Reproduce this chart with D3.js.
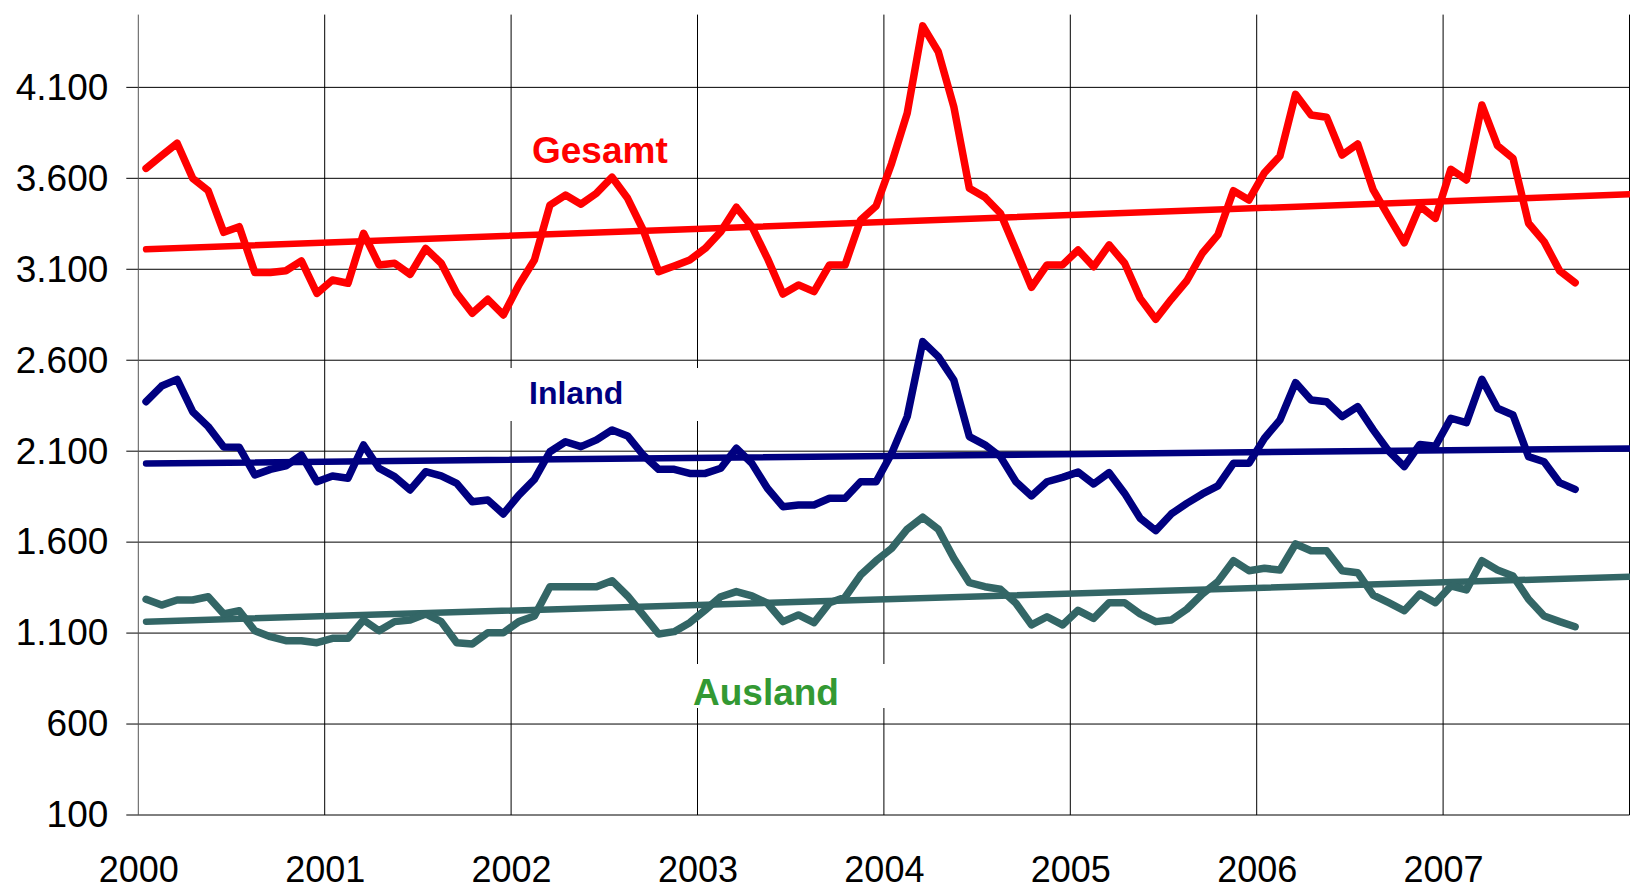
<!DOCTYPE html>
<html>
<head>
<meta charset="utf-8">
<script src="https://cdn.jsdelivr.net/npm/d3@7"></script>
<style>
  body { margin: 0; background: #fff; }
  text { font-family: "Liberation Sans", Arial, sans-serif; }
</style>
</head>
<body>
<div id="chart"></div>
<script>
// Monthly values, Jan 2000 - Sep 2007
const gesamt = [3655, 3725, 3793, 3600, 3532, 3303, 3334, 3082, 3082, 3092, 3146, 2968,
  3041, 3023, 3298, 3124, 3133, 3072, 3215, 3133, 2968, 2858, 2935, 2849,
  3014, 3151, 3453, 3508, 3458, 3518, 3606, 3490, 3316, 3087, 3118, 3151,
  3215, 3307, 3441, 3334, 3160, 2964, 3014, 2977, 3124, 3124, 3371, 3448,
  3683, 3958, 4438, 4296, 3994, 3545, 3496, 3408, 3206, 3001, 3124, 3124,
  3206, 3114, 3234, 3133, 2940, 2825, 2935, 3037, 3188, 3289, 3532, 3481,
  3631, 3723, 4062, 3948, 3936, 3728, 3789, 3536, 3389, 3246, 3448, 3380,
  3650, 3591, 4003, 3780, 3710, 3353, 3252, 3092, 3026];
const inland = [2372, 2458, 2495, 2317, 2235, 2123, 2121, 1969, 2000, 2019, 2079, 1932,
  1964, 1951, 2134, 2006, 1960, 1887, 1987, 1964, 1923, 1822, 1832, 1755,
  1859, 1945, 2097, 2152, 2125, 2162, 2217, 2184, 2079, 2000, 2000, 1978,
  1978, 2006, 2116, 2033, 1896, 1795, 1804, 1804, 1841, 1841, 1932, 1932,
  2088, 2290, 2702, 2620, 2491, 2180, 2135, 2070, 1932, 1854, 1932, 1956,
  1985, 1920, 1982, 1868, 1731, 1663, 1755, 1813, 1865, 1909, 2033, 2033,
  2171, 2272, 2477, 2381, 2372, 2290, 2345, 2217, 2100, 2015, 2137, 2127,
  2281, 2257, 2495, 2336, 2299, 2070, 2042, 1927, 1890];
const ausland = [1286, 1254, 1282, 1282, 1300, 1205, 1223, 1113, 1080, 1058, 1058, 1047,
  1071, 1071, 1172, 1113, 1163, 1172, 1205, 1163, 1047, 1040, 1102, 1102,
  1163, 1194, 1355, 1355, 1355, 1355, 1388, 1304, 1200, 1095, 1108, 1157,
  1227, 1300, 1328, 1304, 1264, 1163, 1200, 1157, 1267, 1297, 1419, 1498,
  1566, 1671, 1737, 1671, 1511, 1377, 1355, 1341, 1264, 1145, 1190, 1145,
  1225, 1181, 1267, 1267, 1205, 1163, 1172, 1231, 1315, 1383, 1498, 1443,
  1456, 1447, 1590, 1553, 1553, 1443, 1432, 1309, 1267, 1223, 1315, 1267,
  1359, 1337, 1498, 1447, 1414, 1286, 1194, 1163, 1135];

// Linear trend lines: value at the first month and at the end of 2007
const trendGesamt = [3210, 3512];
const trendInland = [2032, 2115];
const trendAusland = [1163, 1410];

const years = [2000, 2001, 2002, 2003, 2004, 2005, 2006, 2007];
const valueTicks = [100, 600, 1100, 1600, 2100, 2600, 3100, 3600, 4100];

const width = 1630, height = 890;
const plotLeft = 138.3, plotRight = 1629.5, plotTop = 14.6, plotBottom = 815;

const de = d3.formatLocale({ decimal: ",", thousands: ".", grouping: [3], currency: ["", " €"] });
const fmt = de.format(",d");

const svg = d3.select("#chart")
  .append("svg")
  .attr("width", width)
  .attr("height", height);

const x = d3.scaleLinear().domain([2000, 2008]).range([plotLeft, plotRight]);
const y = d3.scaleLinear().domain([100, 4500]).range([plotBottom, plotTop]);

const monthX = i => x(2000 + (i + 0.5) / 12);

// horizontal grid (extends a little left of the axis like tick marks)
svg.append("g")
  .selectAll("line")
  .data(valueTicks)
  .enter().append("line")
  .attr("x1", plotLeft - 12)
  .attr("x2", plotRight)
  .attr("y1", d => y(d))
  .attr("y2", d => y(d))
  .attr("stroke", "#000")
  .attr("stroke-width", 1);

// vertical grid
svg.append("g")
  .selectAll("line")
  .data(years.slice(1).concat([2008]))
  .enter().append("line")
  .attr("x1", d => x(d))
  .attr("x2", d => x(d))
  .attr("y1", plotTop)
  .attr("y2", plotBottom)
  .attr("stroke", "#000")
  .attr("stroke-width", 1);

// y axis
const yAxis = svg.append("g")
  .attr("transform", "translate(" + plotLeft + ",0)")
  .call(d3.axisLeft(y).tickValues(valueTicks).tickSize(0).tickPadding(30).tickFormat(fmt));
yAxis.select(".domain").remove();
yAxis.append("line")
  .attr("y1", plotTop).attr("y2", plotBottom)
  .attr("stroke", "#555").attr("stroke-width", 1);
yAxis.selectAll("text")
  .attr("font-size", 37)
  .attr("fill", "#000")
  .attr("font-family", "'Liberation Sans', Arial, sans-serif");

// x axis labels
const xAxis = svg.append("g")
  .attr("transform", "translate(0," + plotBottom + ")")
  .call(d3.axisBottom(x).tickValues(years).tickSize(0).tickPadding(41).tickFormat(d3.format("d")));
xAxis.select(".domain").remove();
xAxis.selectAll("text")
  .attr("font-size", 36)
  .attr("fill", "#000")
  .attr("font-family", "'Liberation Sans', Arial, sans-serif");

// white label boxes hide the grid behind the labels
svg.append("rect").attr("x", 495).attr("y", 368).attr("width", 215).attr("height", 53).attr("fill", "#fff");
svg.append("rect").attr("x", 683).attr("y", 664).attr("width", 215).attr("height", 44).attr("fill", "#fff");

const line = d3.line()
  .x((d, i) => monthX(i))
  .y(d => y(d));

const trendLine = d3.line()
  .x((d, i) => i === 0 ? monthX(0) : x(2008))
  .y(d => y(d));

const series = [
  { values: gesamt, trend: trendGesamt, color: "#ff0000" },
  { values: inland, trend: trendInland, color: "#000080" },
  { values: ausland, trend: trendAusland, color: "#336666" }
];

series.forEach(function(s) {
  svg.append("path")
    .attr("d", trendLine(s.trend))
    .attr("fill", "none")
    .attr("stroke", s.color)
    .attr("stroke-width", 6.5)
    .attr("stroke-linecap", "round");
  svg.append("path")
    .attr("d", line(s.values))
    .attr("fill", "none")
    .attr("stroke", s.color)
    .attr("stroke-width", 7.5)
    .attr("stroke-linejoin", "round")
    .attr("stroke-linecap", "round");
});

// series labels
svg.append("text")
  .attr("x", 532).attr("y", 163)
  .attr("font-size", 37).attr("font-weight", "bold")
  .attr("fill", "#ff0000")
  .text("Gesamt");
svg.append("text")
  .attr("x", 529).attr("y", 404)
  .attr("font-size", 32).attr("font-weight", "bold")
  .attr("fill", "#000080")
  .text("Inland");
svg.append("text")
  .attr("x", 693).attr("y", 705)
  .attr("font-size", 37).attr("font-weight", "bold")
  .attr("fill", "#339933")
  .text("Ausland");
</script>
</body>
</html>
